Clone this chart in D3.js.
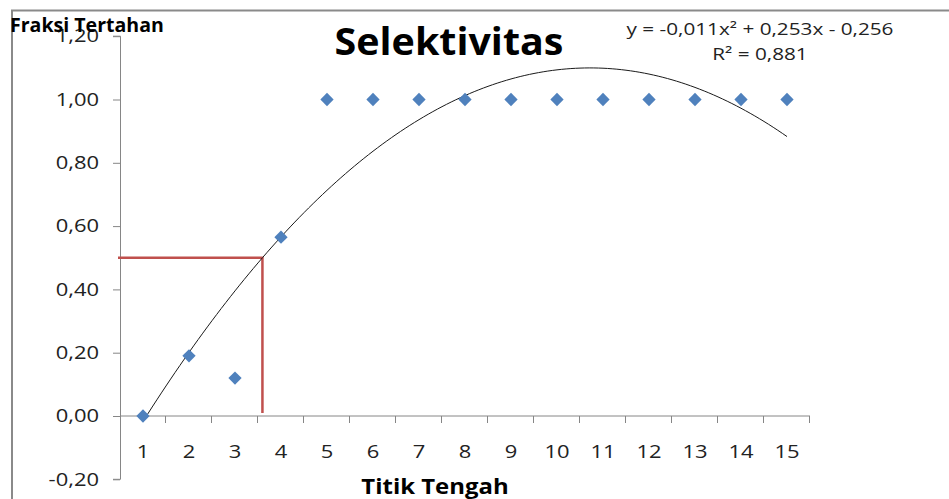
<!DOCTYPE html>
<html>
<head>
<meta charset="utf-8">
<script src="https://cdn.jsdelivr.net/npm/d3@7"></script>
<style>
  body { margin: 0; background: #fff; }
  text { font-family: "Open Sans", sans-serif; }
</style>
</head>
<body>
<div id="container"></div>
<script>
// categories (titik tengah) and fraction retained
const categories = ["1", "2", "3", "4", "5", "6", "7", "8", "9", "10", "11", "12", "13", "14", "15"];
const fraksi = [0.00, 0.19, 0.12, 0.565, 1.00, 1.00, 1.00, 1.00, 1.00, 1.00, 1.00, 1.00, 1.00, 1.00, 1.00];
const yTicks = [-0.2, 0, 0.2, 0.4, 0.6, 0.8, 1.0, 1.2];
const equationLines = ["y = -0,011x² + 0,253x - 0,256", "R² = 0,881"];
const l50 = 0.50; // 50% retention level

const width = 949;
const height = 499;

const svg = d3.select("#container").append("svg")
    .attr("width", width)
    .attr("height", height);

// the original texts are a bit wider than Open Sans, stretch them horizontally
function stretch(sel, sx) {
    sel.attr("transform", function () {
        const x = +d3.select(this).attr("x") || 0;
        return "translate(" + x + ",0) scale(" + sx + ",1) translate(" + (-x) + ",0)";
    });
}

//-----------------------------SCALES-----------------------------//

const xScale = d3.scaleBand().domain(categories).range([120, 810]);
// numeric version of the same axis (category index 1..15)
const xNum = d3.scaleLinear().domain([0.5, categories.length + 0.5]).range([120, 810]);
const yScale = d3.scaleLinear().domain([-0.2, 1.2]).range([479.3, 36.2]);

const idLocale = d3.formatLocale({ decimal: ",", thousands: ".", grouping: [3], currency: ["", ""], minus: "-" });
const fmt = idLocale.format(".2f");

//-------------------------TRENDLINE FIT--------------------------//

// least squares, 2nd order polynomial (same as the spreadsheet trendline)
const pts = fraksi.map((v, i) => [i + 1, v]);
const S = k => d3.sum(pts, p => Math.pow(p[0], k));
const T = k => d3.sum(pts, p => Math.pow(p[0], k) * p[1]);
function solve3(A, b) {
    const m = A.map((r, i) => r.concat([b[i]]));
    for (let i = 0; i < 3; i++) {
        for (let j = i + 1; j < 3; j++) {
            const f = m[j][i] / m[i][i];
            for (let k = i; k < 4; k++) m[j][k] -= f * m[i][k];
        }
    }
    const x = [0, 0, 0];
    for (let i = 2; i >= 0; i--) {
        let s = m[i][3];
        for (let k = i + 1; k < 3; k++) s -= m[i][k] * x[k];
        x[i] = s / m[i][i];
    }
    return x;
}
const coef = solve3(
    [[S(0), S(1), S(2)], [S(1), S(2), S(3)], [S(2), S(3), S(4)]],
    [T(0), T(1), T(2)]
);
const trend = x => coef[0] + coef[1] * x + coef[2] * x * x;
const trendPts = d3.range(1, categories.length + 0.001, 0.1).map(x => [x, trend(x)]);
// x where the fitted curve crosses the 50% level
const xL50 = (-coef[1] + Math.sqrt(coef[1] * coef[1] - 4 * coef[2] * (coef[0] - l50))) / (2 * coef[2]);

//-----------------------------FRAME------------------------------//

svg.append("path")
    .attr("d", "M12,499V10.5H949")
    .attr("fill", "none")
    .attr("stroke", "#8a8a8a")
    .attr("stroke-width", 2);

//-----------------------------AXES-------------------------------//

const yaxis = d3.axisLeft(yScale)
    .tickValues(yTicks)
    .tickFormat(fmt)
    .tickSize(7)
    .tickPadding(14);

const gy = svg.append("g")
    .attr("transform", "translate(120,0)")
    .call(yaxis);
gy.select(".domain").attr("stroke", "#868686").attr("d", "M-7," + yScale(-0.2) + "H0.5V" + yScale(1.2) + "H-7");
gy.selectAll(".tick line").attr("stroke", "#868686");
gy.selectAll(".tick text").attr("fill", "#222").style("font-size", "18px").call(stretch, 1.22);

// x axis sits at y = 0, ticks between categories
const gx = svg.append("g")
    .attr("transform", "translate(0," + yScale(0) + ")");
gx.append("line")
    .attr("x1", 120).attr("x2", 810)
    .attr("stroke", "#868686");
gx.selectAll(".btick")
    .data(d3.range(1, categories.length + 1))
    .enter().append("line")
    .attr("x1", d => xNum(d + 0.5) - 0.5)
    .attr("x2", d => xNum(d + 0.5) - 0.5)
    .attr("y1", 0).attr("y2", 7)
    .attr("stroke", "#868686");
gx.selectAll(".xlab")
    .data(categories)
    .enter().append("text")
    .attr("x", d => xScale(d) + xScale.bandwidth() / 2)
    .attr("y", 42)
    .attr("text-anchor", "middle")
    .attr("fill", "#222")
    .style("font-size", "18px")
    .text(d => d)
    .call(stretch, 1.22);

//----------------------------RED LINES---------------------------//

svg.append("path")
    .attr("d", "M118," + yScale(l50) + "H" + xNum(xL50) + "V" + (yScale(0) - 3))
    .attr("fill", "none")
    .attr("stroke", "#C0504D")
    .attr("stroke-width", 2.5);

//----------------------------TRENDLINE---------------------------//

const line = d3.line()
    .x(d => xNum(d[0]))
    .y(d => yScale(d[1]));

svg.append("path")
    .attr("d", line(trendPts))
    .attr("fill", "none")
    .attr("stroke", "#1a1a1a")
    .attr("stroke-width", 1);

//-----------------------------POINTS-----------------------------//

const diamond = d3.symbol().type(d3.symbolSquare).size(88);
svg.selectAll(".pt")
    .data(fraksi)
    .enter().append("path")
    .attr("d", diamond)
    .attr("transform", (d, i) => "translate(" + (xScale(categories[i]) + xScale.bandwidth() / 2) + "," + yScale(d) + ") rotate(45)")
    .attr("fill", "#4F81BD");

//-----------------------------TEXTS------------------------------//

svg.append("text")
    .attr("x", 449).attr("y", 55)
    .attr("text-anchor", "middle")
    .style("font-size", "37px")
    .style("font-weight", "bold")
    .text("Selektivitas")
    .call(stretch, 1.065);

svg.append("text")
    .attr("x", 10).attr("y", 32)
    .style("font-size", "19px")
    .style("font-weight", "bold")
    .text("Fraksi Tertahan")
    .call(stretch, 1.03);

svg.append("text")
    .attr("x", 435).attr("y", 494)
    .attr("text-anchor", "middle")
    .style("font-size", "21px")
    .style("font-weight", "bold")
    .text("Titik Tengah")
    .call(stretch, 1.14);

svg.selectAll(".eq")
    .data(equationLines)
    .enter().append("text")
    .attr("x", 760)
    .attr("y", (d, i) => 35 + i * 25)
    .attr("text-anchor", "middle")
    .attr("fill", "#222")
    .style("font-size", "17px")
    .text(d => d)
    .call(stretch, 1.22);
</script>
</body>
</html>
